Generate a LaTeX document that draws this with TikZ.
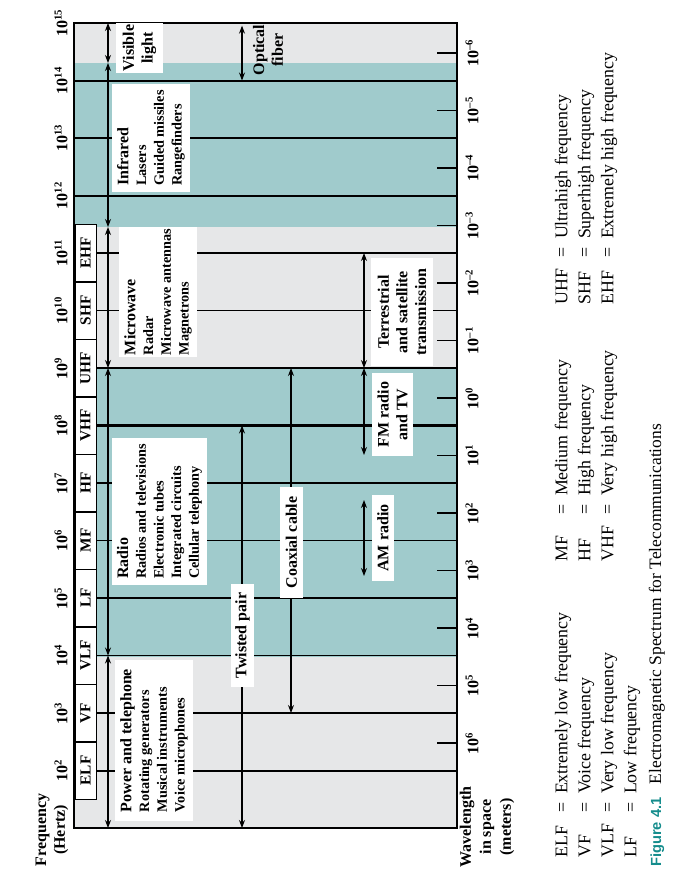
\documentclass[tikz,border=0pt]{standalone}
\usepackage{fontspec}
\setmainfont{Liberation Serif}
\setsansfont{Liberation Sans}
\usetikzlibrary{arrows.meta}
\definecolor{bandgray}{HTML}{E6E7E8}
\definecolor{bandteal}{HTML}{A0CBCC}
\definecolor{capteal}{HTML}{148C8C}
\newcommand\hdr[1]{{\fontsize{12}{13.3}\selectfont #1}}
\begin{document}
\begin{tikzpicture}[x=0.75pt,y=-0.75pt,
    arr/.style={{Stealth[length=6pt,width=4.5pt]}-{Stealth[length=6pt,width=4.5pt]},line width=0.8pt},
    band/.style={draw,fill=white,rotate=90,minimum width=43.1pt,minimum height=15.75pt,inner sep=0pt,font=\bfseries\fontsize{11.5}{13}\selectfont},
    lbl/.style={fill=white,rotate=90,inner sep=0pt,align=center,font=\bfseries\fontsize{12}{14}\selectfont},
    lst/.style={lbl,align=left,font=\bfseries\fontsize{10.7}{13.3}\selectfont},
    axis/.style={rotate=90,inner sep=0pt,font=\bfseries\fontsize{12}{14}\selectfont},
    legend/.style={rotate=90,anchor=north west,inner sep=0pt,font=\fontsize{13.4}{17.25}\selectfont}]
    \useasboundingbox (0,0) rectangle (693,893);
    \fill[bandgray] (74,23) rectangle (457,828);
    \fill[bandteal] (74,63) rectangle (457,227);
    \fill[bandteal] (74,368) rectangle (457,657);
    \foreach \k in {1,...,15}
        \coordinate (b\k) at (74,{23+(15-\k)*57.5});
    \coordinate (vi) at (74,63);
    \coordinate (im) at (74,227);
    \coordinate (cL) at (108,0);
    \coordinate (cT) at (242,0);
    \coordinate (cC) at (291,0);
    \coordinate (cR) at (364,0);
    \coordinate (fm) at (364,455);
    \coordinate (am1) at (364,500);
    \coordinate (am2) at (364,576);

    \foreach \k in {12,13,14}
        \draw[line width=1.5pt] (b\k) -- ++(383,0);
    \foreach \k/\w in {2/1.5,3/0.9,4/1,5/1,6/1,7/1,8/1.6,9/1.2,10/1,11/1}
        \draw[line width=\w pt] (b\k) ++(22,0) -- ++(361,0);
    \foreach \k/\t in {2/ELF,3/VF,4/VLF,5/LF,6/MF,7/HF,8/VHF,9/UHF,10/SHF,11/EHF}
        \node[band] (\t) at (85.5,{23+(15-\k)*57.5}) {\t};
    \foreach \k in {2,...,15}
        \node[axis] (f\k) at (61,{23+(15-\k)*57.5}) {10\textsuperscript{\k}};
    \foreach \m in {-6,...,6} {
        \draw[line width=1.3pt] (437,{23+(6.523+\m)*57.5}) -- (457,{23+(6.523+\m)*57.5});
        \node[axis] (w\m) at (472,{23+(6.523+\m)*57.5}) {10\textsuperscript{\ifnum\m<0 \textendash\the\numexpr-\m\relax\else\m\fi}};
    }
    \draw[line width=1.5pt] (b15) rectangle (457,828);

    \draw[arr] (cL |- b15) -- (cL |- vi);
    \draw[arr] (cL |- vi) -- (cL |- im);
    \draw[arr] (cL |- im) -- (cL |- b9);
    \draw[arr] (cL |- b9) -- (cL |- b4);
    \draw[arr] (cL |- b4) -- (cL |- b1);
    \draw[arr] ([yshift=-2pt]cT |- b15) -- (cT |- b14);
    \draw[arr] (cT |- b8) -- (cT |- b1);
    \draw[arr] (cC |- b9) -- (cC |- b3);
    \draw[arr] (cR |- b11) -- (cR |- b9);
    \draw[arr] (cR |- b9) -- (fm);
    \draw[arr] (am1) -- (am2);

    \node[lbl,minimum width=37.5pt,minimum height=35pt] (vis) at (139.5,48) {Visible\\light};
    \node[lbl,fill=none] (opt) at (268,50) {Optical\\fiber};
    \node[lst,minimum width=81pt,minimum height=58.5pt] (ir) at (151,138) {\hdr{Infrared}\\Lasers\\Guided missiles\\Rangefinders};
    \node[lst,minimum width=97.5pt,minimum height=58.5pt] (mw) at (158,292) {\hdr{Microwave}\\Radar\\Microwave antennas\\Magnetrons};
    \node[lst,minimum width=110pt,minimum height=71pt] (radio) at (159.5,511.5) {\hdr{Radio}\\Radios and televisions\\Electronic tubes\\Integrated circuits\\Cellular telephony};
    \node[lst,minimum width=121pt,minimum height=58.5pt] (power) at (154,740.5) {\hdr{Power and telephone}\\Rotating generators\\Musical instruments\\Voice microphones};
    \node[lbl,minimum width=77pt,minimum height=17pt] (tp) at (242.5,635.5) {Twisted pair};
    \node[lbl,minimum width=83pt,minimum height=17pt] (coax) at (291.5,542.5) {Coaxial cable};
    \node[lbl,minimum width=81pt,minimum height=46.5pt] (ts) at (402,312) {Terrestrial\\and satellite\\transmission};
    \node[lbl,minimum width=62pt,minimum height=31pt] (fmtv) at (392.5,414.5) {FM radio\\and TV};
    \node[lbl,minimum width=64.5pt,minimum height=16.5pt] (amr) at (383,538) {AM radio};

    \node[axis,align=center] (fq) at (52,830) {Frequency\\(Hertz)};
    \node[axis,align=center,font=\bfseries\fontsize{12}{15}\selectfont] (wl) at (487,827) {Wavelength\\in space\\(meters)};

    \node[legend] (lg1) at (551,858) {\begin{tabular}{@{}l@{\hspace{9pt}=\hspace{6pt}}l@{}}ELF&Extremely low frequency\\VF&Voice frequency\\VLF&Very low frequency\\LF&Low frequency\end{tabular}};
    \node[legend] (lg2) at (551,562) {\begin{tabular}{@{}l@{\hspace{9pt}=\hspace{6pt}}l@{}}MF&Medium frequency\\HF&High frequency\\VHF&Very high frequency\end{tabular}};
    \node[legend] (lg3) at (551,305) {\begin{tabular}{@{}l@{\hspace{9pt}=\hspace{6pt}}l@{}}UHF&Ultrahigh frequency\\SHF&Superhigh frequency\\EHF&Extremely high frequency\end{tabular}};
    \node[rotate=90,anchor=base west,inner sep=0pt,font=\fontsize{13.1}{15}\selectfont] (cap) at (661,867) {{\sffamily\bfseries\color{capteal}\fontsize{11}{13}\selectfont Figure 4.1}\hspace{10pt}Electromagnetic Spectrum for Telecommunications};
\end{tikzpicture}
\end{document}
